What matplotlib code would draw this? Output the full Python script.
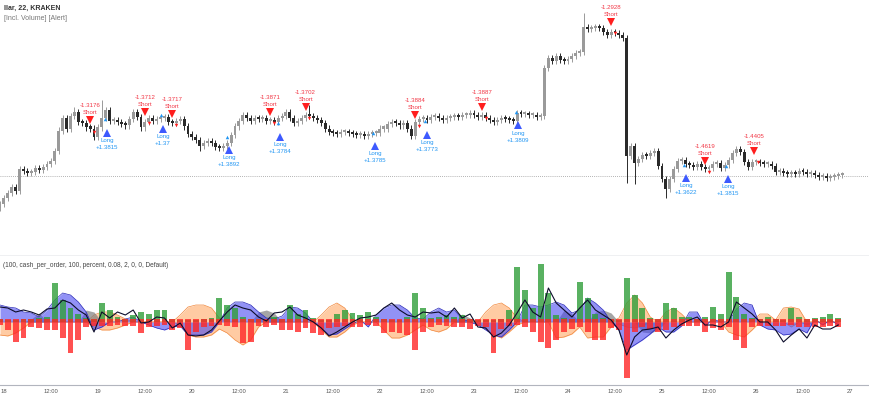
import numpy as np
import matplotlib
matplotlib.use("Agg")
import matplotlib.pyplot as plt

plt.rcParams['font.family'] = ['Liberation Sans', 'DejaVu Sans']

# hourly closes, first bar is 17th 23:00
closes = [
    1.297, 1.303, 1.308, 1.314, 1.310, 1.332, 1.330, 1.328, 1.329, 1.333, 1.331, 1.334, 1.337,
    1.340, 1.350, 1.370, 1.382, 1.372, 1.384, 1.388, 1.378, 1.377, 1.373, 1.372, 1.364,
    # 19
    1.373, 1.382, 1.390, 1.379, 1.380, 1.378, 1.376, 1.375, 1.381, 1.388, 1.383, 1.373,
    1.378, 1.382, 1.379, 1.381, 1.382, 1.383, 1.378, 1.377, 1.379, 1.381, 1.374, 1.367,
    # 20
    1.364, 1.361, 1.355, 1.358, 1.360, 1.358, 1.354, 1.353, 1.355, 1.358, 1.366, 1.374,
    1.379, 1.385, 1.382, 1.379, 1.382, 1.381, 1.382, 1.379, 1.380, 1.378, 1.382, 1.384,
    # 21
    1.388, 1.382, 1.377, 1.379, 1.382, 1.385, 1.384, 1.382, 1.380, 1.377, 1.372, 1.369,
    1.368, 1.367, 1.369, 1.369, 1.368, 1.367, 1.366, 1.367, 1.365, 1.367, 1.368, 1.368,
    # 22
    1.372, 1.372, 1.376, 1.378, 1.377, 1.375, 1.377, 1.372, 1.365, 1.378, 1.381, 1.382,
    1.380, 1.383, 1.384, 1.382, 1.380, 1.382, 1.383, 1.384, 1.383, 1.385, 1.385, 1.387,
    # 23
    1.385, 1.383, 1.385, 1.382, 1.380, 1.378, 1.380, 1.382, 1.381, 1.380, 1.379, 1.387,
    1.386, 1.386, 1.385, 1.385, 1.383, 1.384, 1.432, 1.442, 1.439, 1.444, 1.440, 1.439,
    # 24
    1.441, 1.444, 1.447, 1.448, 1.473, 1.471, 1.472, 1.473, 1.472, 1.468, 1.465, 1.468,
    1.467, 1.465, 1.462, 1.345, 1.355, 1.338, 1.342, 1.346, 1.345, 1.348, 1.350, 1.335,
    # 25
    1.322, 1.312, 1.322, 1.332, 1.340, 1.341, 1.337, 1.336, 1.334, 1.337, 1.334, 1.332,
    1.333, 1.337, 1.338, 1.333, 1.336, 1.341, 1.348, 1.352, 1.349, 1.339, 1.334, 1.339,
    # 26
    1.339, 1.338, 1.337, 1.337, 1.335, 1.329, 1.330, 1.328, 1.327, 1.328, 1.327, 1.330,
    1.329, 1.327, 1.328, 1.326, 1.324, 1.325, 1.323, 1.324, 1.325, 1.326, 1.326,
]
# long wicks (hour -> price)
wick_extremes = {18: 1.393, 25: 1.400, 50: 1.350, 78: 1.395, 104: 1.362,
                 148: 1.487, 159: 1.318, 161: 1.317, 169: 1.303}
last_price = 1.325

short_hours = [22, 36, 43, 68, 77, 105, 122, 155, 179, 191.5]
short_prices = [1.380, 1.388, 1.386, 1.388, 1.393, 1.385, 1.393, 1.478, 1.340, 1.350]
short_labels = ["-1.3176", "-1.3712", "-1.3717", "-1.3871", "-1.3702", "-1.3884",
                "-1.3887", "-1.2928", "-1.4619", "-1.4405"]
long_hours = [26.3, 40.6, 57.4, 70.5, 94.7, 108, 131.2, 174.1, 184.8]
long_prices = [1.368, 1.372, 1.351, 1.364, 1.355, 1.366, 1.375, 1.323, 1.322]
long_labels = ["+1.3815", "+1.37", "+1.3892", "+1.3784", "+1.3785", "+1.3773",
               "+1.3809", "+1.3622", "+1.3815"]

# lower pane, 2 hour steps
osc_line = [
    1.5, 1.4, 1.0, 1.2, 1.0, 0.7, 1.3, 1.4, 2.2, 1.9,
    1.2, 0.7, -1.0, 1.0, 0.4, 1.0, 0.7, 1.2, -0.1, 0.0,
    0.5, 0.4, -0.6, -0.1, -1.3, -1.4, -1.3, -0.8, 0.1, 1.0,
    1.7, 1.4, 1.2, 0.5, 0.1, 0.9, 1.0, 1.5, 0.7, 0.4,
    0.0, -0.6, -1.4, -1.0, -0.5, 0.0, 0.4, 0.5, 0.7, 1.4,
    1.9, 1.2, 0.7, 0.5, 1.0, 0.9, 1.0, 0.5, 1.4, 0.4,
    0.8, -0.5, -0.6, -1.5, -1.1, -0.3, 0.9, 2.2, 1.0, 0.5,
    3.4, 1.9, 1.2, 0.5, 1.4, 2.2, 1.2, 0.7, 0.2, -0.8,
    -3.3, -1.5, -0.8, -0.7, -0.5, -1.6, -0.8, -0.2, 0.2, 0.5,
    -0.3, -0.3, -0.5, 0.0, 2.0, 1.4, 0.8, 0.0, 0.0, -0.8,
    -2.0, -1.3, -0.7, -1.6, -0.3, -0.7, -0.7, -0.3,
]
blue_band = [
    1.7, 1.5, 1.4, 1.0, 0.9, 0.5, 1.2, 2.2, 2.9, 2.7,
    2.0, 1.0, -0.8, -0.5, 0.0, 0.0, 0.3, 0.5, 0.0, -0.3,
    -0.6, -0.8, -0.5, -0.4, -1.3, -1.3, -1.3, -1.0, 0.0, 1.4,
    2.0, 2.0, 1.7, 1.0, 0.4, 0.3, 0.6, 1.5, 1.4, 0.9,
    0.0, -0.6, -1.3, -1.2, -0.7, -0.2, 0.2, -0.5, 0.7, 1.4,
    1.7, 1.7, 1.2, 0.4, 0.3, 1.0, 1.4, 1.0, 1.2, 0.3,
    0.0, -0.3, -0.8, -1.3, -1.5, -0.8, 0.0, 1.7, 1.7, 1.5,
    1.7, 2.0, 1.7, 0.9, 1.2, 2.4, 1.9, 1.2, 0.0, -0.8,
    -2.8, -2.3, -1.8, -1.2, -0.5, -1.0, -1.0, -0.4, 1.0, 1.0,
    -0.4, 0.3, 0.0, 0.0, 1.3, 1.9, 1.7, -0.3, -0.7, -0.8,
    -1.3, -1.2, -0.7, -1.1, 0.3, -0.3, 0.2, -0.3,
]
orange_hi = [
    0, 0, 0, 0, 0, 0, 0, 0, 0, 0,
    0, 0, 0.7, 1.0, 1.0, 0.7, 0.3, 0, 0, 0,
    0, 0, 0, 0.7, 1.5, 1.7, 1.7, 1.4, 0.4, 0,
    0, 0, 0, 0, 0, 0, 0, 0, 0, 0,
    0, 0.7, 1.5, 1.9, 1.4, 0.3, 0, 0, 0, 0,
    0, 0, 0, 0, 0, 0, 0, 0, 0, 0,
    0, 0, 1.0, 1.7, 1.9, 1.4, 0.4, 0, 0, 0,
    0, 0, 0, 0, 0, 0, 0, 0, 0, 0.4,
    1.9, 2.7, 1.9, 0.5, 0, 1.0, 1.4, 0.8, 0, 0,
    0, 0, 0, 0, 0, 0, 0, 0.8, 0.8, 0.2,
    1.4, 1.5, 1.3, 0, 0, 0, 0, 0,
]
orange_lo = [
    -1.3, -1.4, -1.1, -0.6, 0, 0, 0, 0, 0, 0,
    0, 0, -0.5, -0.8, -0.8, -0.6, -0.3, 0, 0, 0,
    0, 0, 0, -0.3, -1.3, -1.5, -1.5, -1.3, -0.7, -1.1,
    -1.8, -2.3, -1.8, -0.5, 0, 0, 0, 0, 0, 0,
    0, -0.8, -1.5, -1.5, -1.0, -0.3, 0, 0, 0, -0.8,
    -1.6, -1.6, -1.3, -0.8, -0.3, -0.8, -1.0, -0.7, 0, 0,
    0, 0, -0.7, -1.3, -1.6, -1.0, -0.3, 0, 0, 0,
    0, -1.6, -1.5, -1.2, -0.5, -1.6, -1.5, -1.5, -0.5, -0.2,
    -0.5, -0.6, -0.4, 0, 0, 0, 0, 0, 0, 0,
    0, 0, 0, -1.0, -1.3, -1.5, -0.8, 0, 0, 0,
    0, -0.5, 0, 0, 0, 0, 0, 0,
]
gray_band = [
    0, 0, 0, 0, 0.3, 0.9, 0, 0, 0, 0,
    0, 1.2, 1.0, 0, 0, 0, 0, 0, 0, 0,
    0, 0, 0, 0, 0, 0, 0, 0, 0, 0,
    0, 0, 0, 1.0, 1.2, 0.9, 0, 0, 0, 0,
    0, 0, 0, 0, 0, 0, 0, 0, 0, 0,
    0, 0, 0, 0, 0, 0, 0, 0, 0, 0.8,
    0.4, 0, 0, 0, 0, 0, 0, 0, 0, 0,
    0, 0, 1.2, 0.8, 0, 0, 1.0, 1.2, 0.9, 0,
    0, 0, -1.0, -1.1, -0.8, 0, 0, 0, 0, 0,
    0, 0, 0, 0, 0, 0, 0, 0, 0, 0,
    0, 0, 0, -0.3, 0, 0, 0, 0,
]
green_bars = [
    0.3, 0.2, 0.2, 0.3, 0.3, 0.4, 0.5, 3.9, 2.2, 1.4,
    0.8, 0.4, 0.3, 1.9, 1.2, 0.5, 0.3, 0.7, 1.0, 0.8,
    1.2, 1.2, 0.3, 0.2, 0.2, 0.2, 0.3, 0.4, 2.4, 1.7,
    1.4, 0.5, 0.3, 0.3, 0.2, 0.5, 0.3, 1.7, 0.8, 1.2,
    0.4, 0.2, 0.2, 0.8, 1.2, 0.9, 0.7, 1.0, 0.5, 0.3,
    0.2, 0.2, 0.5, 2.9, 1.4, 0.4, 0.5, 0.7, 0.5, 0.7,
    0.3, 0.2, 0.2, 0.2, 0.3, 1.2, 5.5, 3.2, 1.4, 5.8,
    2.9, 0.7, 0.4, 0.3, 4.0, 2.4, 0.8, 0.4, 0.3, 0.2,
    4.4, 2.7, 1.4, 0.4, 0.3, 1.9, 1.4, 0.5, 0.5, 0.3,
    0.5, 1.5, 0.8, 5.0, 2.5, 0.8, 0.4, 0.3, 0.5, 0.3,
    0.2, 1.4, 0.5, 0.3, 0.4, 0.5, 0.8, 0.4,
]
red_bars = [
    -0.3, -0.8, -2.0, -1.6, -0.5, -0.6, -0.8, -0.8, -1.6, -3.1,
    -1.8, -0.5, -0.4, -0.4, -0.4, -0.3, -0.4, -0.4, -1.1, -0.5,
    -0.4, -0.3, -0.8, -0.6, -2.8, -1.0, -0.5, -0.4, -0.3, -0.4,
    -0.5, -2.1, -2.0, -0.4, -0.5, -0.3, -0.8, -0.8, -1.0, -0.6,
    -1.1, -1.3, -0.6, -0.5, -0.4, -0.5, -0.5, -0.3, -0.4, -1.1,
    -1.0, -1.1, -1.3, -2.8, -1.0, -0.5, -0.3, -0.4, -0.5, -0.5,
    -0.7, -0.4, -0.5, -3.1, -0.7, -0.4, -0.3, -0.5, -1.0, -2.0,
    -2.6, -1.8, -1.0, -0.7, -0.5, -1.0, -1.8, -1.8, -0.6, -0.8,
    -5.6, -1.0, -0.5, -0.7, -1.0, -0.8, -0.5, -0.4, -0.4, -0.4,
    -1.0, -0.6, -0.8, -0.5, -1.8, -2.6, -0.5, -0.4, -0.4, -0.4,
    -0.4, -0.3, -0.5, -0.5, -0.5, -0.5, -0.4, -0.5,
]

day_ticks = np.arange(0, 217, 12)
day_labels = ['18', '12:00', '19', '12:00', '20', '12:00', '21', '12:00', '22', '12:00',
              '23', '12:00', '24', '12:00', '25', '12:00', '26', '12:00', '27']

x_lim = (-1.0, 221.1)

fig = plt.figure(figsize=(8.7, 4.0), dpi=100)
ax = fig.add_axes([0, 0.36, 1, 0.64])
ax2 = fig.add_axes([0, 0.0375, 1, 0.3225])

# ---- price pane
hours = np.arange(-1, len(closes) - 1)
c = np.array(closes)
o = np.concatenate([[c[0] - 0.004], c[:-1]])
hi = np.maximum(o, c) + 0.003
lo = np.minimum(o, c) - 0.003
for h, p in wick_extremes.items():
    i = h + 1
    if p > max(o[i], c[i]):
        hi[i] = p
    else:
        lo[i] = p
up = c >= o
cols = np.where(up, '#9a9a9a', '#2a2a2a')
ax.vlines(hours, lo, hi, colors=cols, lw=0.7, zorder=2)
ax.bar(hours, np.maximum(np.abs(c - o), 0.002), bottom=np.minimum(o, c), width=0.75,
       color=cols, lw=0, zorder=3)
ax.axhline(last_price, color='#9a9a9a', lw=0.6, ls=(0, (1, 1.5)), zorder=1)

red_txt = '#f23645'
blue_txt = '#2196f3'
for h, p, lab in zip(short_hours, short_prices, short_labels):
    ax.text(h, p + 0.0145, lab, color=red_txt, fontsize=4.4, ha='center', va='center', zorder=4)
    ax.text(h, p + 0.0075, 'Short', color=red_txt, fontsize=4.4, ha='center', va='center', zorder=4)
    ax.plot(h, p, marker='v', color='#ff1e1e', ms=5.5, mew=0, zorder=5)
    ax.plot(h + 1, p - 0.011, marker='v', color='#ff1e1e', ms=2.5, mew=0, zorder=5)
for h, p, lab in zip(long_hours, long_prices, long_labels):
    ax.text(h, p - 0.0075, 'Long', color=blue_txt, fontsize=4.4, ha='center', va='center', zorder=4)
    ax.text(h, p - 0.0150, lab, color=blue_txt, fontsize=4.4, ha='center', va='center', zorder=4)
    ax.plot(h, p, marker='^', color='#3d5afe', ms=5.5, mew=0, zorder=5)
    ax.plot(h - 0.5, p + 0.013, marker='^', color='#2196f3', ms=2.5, mew=0, zorder=5)

ax.set_xlim(*x_lim)
ax.set_ylim(1.245, 1.500)
ax.set_xticks([])
ax.set_yticks([])
for s in ['top', 'left', 'right']:
    ax.spines[s].set_visible(False)
ax.spines['bottom'].set_color('#b2b5be')
ax.spines['bottom'].set_linewidth(1.0)

fig.text(4 / 870, 1 - 8 / 400, 'llar, 22, KRAKEN', fontsize=5, color='#333333',
         fontweight='bold', va='center')
fig.text(4 / 870, 1 - 18 / 400, '[Incl. Volume] [Alert]', fontsize=5, color='#777777',
         va='center')

# ---- oscillator pane
t2 = np.arange(-1, 215, 2)
ax2.fill_between(t2, orange_lo, orange_hi, color='#ffbf8c', alpha=0.8, lw=0, zorder=1)
ax2.plot(t2, orange_hi, color='#f0883e', lw=0.5, zorder=1)
ax2.plot(t2, orange_lo, color='#f0883e', lw=0.5, zorder=1)
ax2.fill_between(t2, 0, gray_band, color='#7f7f7f', alpha=0.7, lw=0, zorder=2)
ax2.fill_between(t2, 0, blue_band, color='#4a4af0', alpha=0.6, lw=0, zorder=3)
ax2.plot(t2, blue_band, color='#2b2bb8', lw=0.5, zorder=3)
ax2.bar(t2, green_bars, width=1.5, color='#2f9e3a', alpha=0.8, lw=0, zorder=4)
# red histogram is drawn up to a thin band just above the zero line
red = np.array(red_bars)
ax2.bar(t2, 0.3 - red, bottom=red, width=1.5, color='#ff2626', alpha=0.8, lw=0, zorder=5)
ax2.plot(t2, osc_line, color='#0d0d2b', lw=0.8, zorder=6)

ax2.text(0.003, 0.93, '(100, cash_per_order, 100, percent, 0.08, 2, 0, 0, Default)',
         transform=ax2.transAxes, fontsize=4.7, color='#444444', va='center')

ax2.set_xlim(*x_lim)
ax2.set_ylim(-6.3, 6.6)
ax2.set_yticks([])
ax2.set_xticks(day_ticks)
ax2.set_xticklabels(day_labels)
ax2.tick_params(axis='x', length=0, pad=3, labelsize=4.2, labelcolor='#555555')
for s in ['top', 'left', 'right']:
    ax2.spines[s].set_visible(False)
ax2.spines['bottom'].set_color('#b2b5be')
ax2.spines['bottom'].set_linewidth(0.8)

fig.savefig('out.png', dpi=100)
